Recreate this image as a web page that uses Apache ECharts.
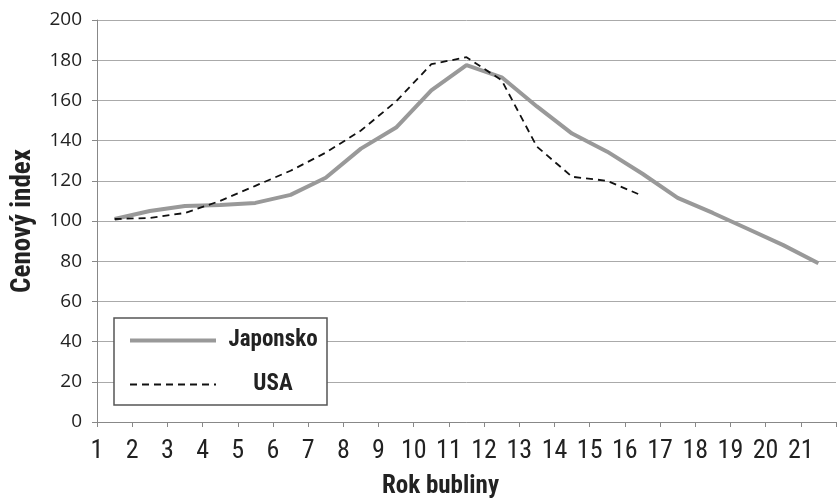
<!DOCTYPE html>
<html>
<head>
<meta charset="utf-8">
<script src="https://cdn.jsdelivr.net/npm/echarts@6/dist/echarts.min.js"></script>
<style>html,body{margin:0;padding:0;background:#fff}#c{width:837px;height:498px}</style>
</head>
<body>
<div id="c"></div>
<script>
const years = [1,2,3,4,5,6,7,8,9,10,11,12,13,14,15,16,17,18,19,20,21];
const japonsko = [101,105,107.5,108,109,113,121.5,136,146.5,165,177.5,171.5,157,143.5,134.5,123.5,111.5,104,96,88,79];
const usa = [101,101.5,104,110,117.5,125,134,145,159.5,178,181.5,170,137,122,120,112.5];
const yTicks = {min:0, max:200, interval:20};

const condensed = '"Roboto Condensed","Open Sans Condensed",sans-serif';
const toPairs = (vals) => vals.map((v,i)=>[years[i]+0.5, v]);

const chart = echarts.init(document.getElementById('c'));
chart.setOption({
  animation:false,
  backgroundColor:'#fff',
  grid:{left:97,right:1,top:20,bottom:76,containLabel:false,outerBoundsMode:'none'},
  xAxis:{
    type:'value', min:1, max:22, interval:1,
    name:'Rok bubliny', nameLocation:'middle', nameGap:52,
    nameTextStyle:{fontFamily:condensed,fontWeight:'bold',fontSize:25,color:'#222',padding:[0,52,0,0]},
    axisLine:{show:true,lineStyle:{color:'#888',width:1}},
    axisTick:{show:true,length:5,lineStyle:{color:'#888'}},
    axisLabel:{margin:16,fontFamily:condensed,fontSize:26,color:'#222',
      formatter:(v)=> (years.indexOf(v)>=0 ? String(v) : '')},
    splitLine:{show:false}
  },
  yAxis:{
    type:'value', min:yTicks.min, max:yTicks.max, interval:yTicks.interval,
    name:'Cenový index', nameLocation:'middle', nameGap:60,
    nameTextStyle:{fontFamily:condensed,fontWeight:'bold',fontSize:27,color:'#222'},
    axisLine:{show:true,lineStyle:{color:'#888',width:1}},
    axisTick:{show:true,length:5,lineStyle:{color:'#888'}},
    axisLabel:{margin:15,fontFamily:'"Open Sans","Noto Sans",sans-serif',fontSize:19,color:'#222'},
    splitLine:{show:true,lineStyle:{color:'#aaa',width:1}}
  },
  legend:{
    orient:'vertical', left:114, top:318,
    padding:[11,2,9,14], itemGap:21,
    itemWidth:86, itemHeight:20,
    backgroundColor:'#fff', borderColor:'#555', borderWidth:1.5, borderRadius:0,
    itemStyle:{opacity:0},
    data:[
      {name:'Japonsko', lineStyle:{color:'#999',width:4}},
      {name:'USA', lineStyle:{color:'#111',width:1.8,type:[7,5]}}
    ],
    formatter:(n)=>'{a|'+n+'}',
    textStyle:{rich:{a:{width:104,align:'center',fontFamily:condensed,fontWeight:'bold',fontSize:23,color:'#222',lineHeight:20}}}
  },
  series:[
    {name:'Japonsko',type:'line',data:toPairs(japonsko),symbol:'none',
      lineStyle:{color:'#999',width:4},itemStyle:{color:'#999'},z:2},
    {name:'USA',type:'line',data:toPairs(usa),symbol:'none',
      lineStyle:{color:'#111',width:1.8,type:[7,5]},itemStyle:{color:'#111'},z:3}
  ]
});
</script>
</body>
</html>
